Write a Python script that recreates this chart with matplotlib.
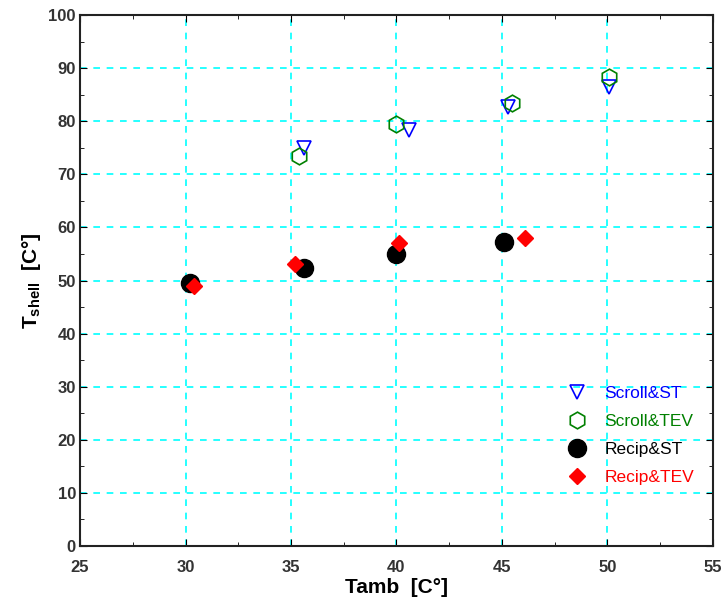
import numpy as np
import matplotlib
matplotlib.use("Agg")
import matplotlib.pyplot as plt
from matplotlib.ticker import MultipleLocator

plt.rcParams['font.family'] = ['Liberation Sans', 'DejaVu Sans']

# data
scroll_st_x = [35.6, 40.6, 45.3, 50.1]
scroll_st_y = [75.0, 78.3, 82.7, 86.4]
scroll_tev_x = [35.4, 40.0, 45.5, 50.1]
scroll_tev_y = [73.4, 79.5, 83.4, 88.3]
recip_st_x = [30.2, 35.6, 40.0, 45.1]
recip_st_y = [49.5, 52.4, 55.0, 57.2]
recip_tev_x = [30.4, 35.2, 40.1, 46.1]
recip_tev_y = [49.0, 53.1, 57.1, 58.0]

fig = plt.figure(figsize=(7.28, 6.06), dpi=100)
ax = fig.add_axes([0.110, 0.099, 0.869, 0.876])

ax.plot(scroll_st_x, scroll_st_y, 'v', ms=10, mfc='none', mec='blue', mew=1.2, ls='none', label='Scroll&ST')
ax.plot(scroll_tev_x, scroll_tev_y, 'h', ms=12, mfc='none', mec='green', mew=1.2, ls='none', label='Scroll&TEV')
ax.plot(recip_st_x, recip_st_y, 'o', ms=13, color='black', ls='none', label='Recip&ST')
ax.plot(recip_tev_x, recip_tev_y, 'D', ms=8, color='red', ls='none', label='Recip&TEV')

ax.set_xlim(25, 55)
ax.set_ylim(0, 100)
ax.xaxis.set_major_locator(MultipleLocator(5))
ax.xaxis.set_minor_locator(MultipleLocator(2.5))
ax.yaxis.set_major_locator(MultipleLocator(10))
ax.yaxis.set_minor_locator(MultipleLocator(5))
ax.tick_params(which='both', direction='in', top=True, right=True, labelsize=12)
ax.tick_params(which='major', length=5)
ax.tick_params(which='minor', length=3)
ax.tick_params(axis='x', pad=10)
ax.tick_params(axis='y', pad=3)
for lab in ax.get_xticklabels() + ax.get_yticklabels():
    lab.set_fontweight('bold')
    lab.set_color('#333333')

ax.grid(True, which='major', color='cyan', ls=(0, (4, 4)), lw=1.2)
for sp in ax.spines.values():
    sp.set_linewidth(1.5)
    sp.set_color('#222222')

ax.set_xlabel('Tamb  [C°]', fontsize=15, fontweight='bold', labelpad=2)
ax.set_ylabel(r'T$_{\mathregular{shell}}$  [C°]', fontsize=15, fontweight='bold')

leg = ax.legend(loc='lower right', bbox_to_anchor=(0.995, 0.085), frameon=False,
                fontsize=12.5, handletextpad=0.8, labelspacing=0.75, handlelength=1.5)
for txt, c in zip(leg.get_texts(), ['blue', 'green', 'black', 'red']):
    txt.set_color(c)

fig.savefig('out.png', dpi=100)
